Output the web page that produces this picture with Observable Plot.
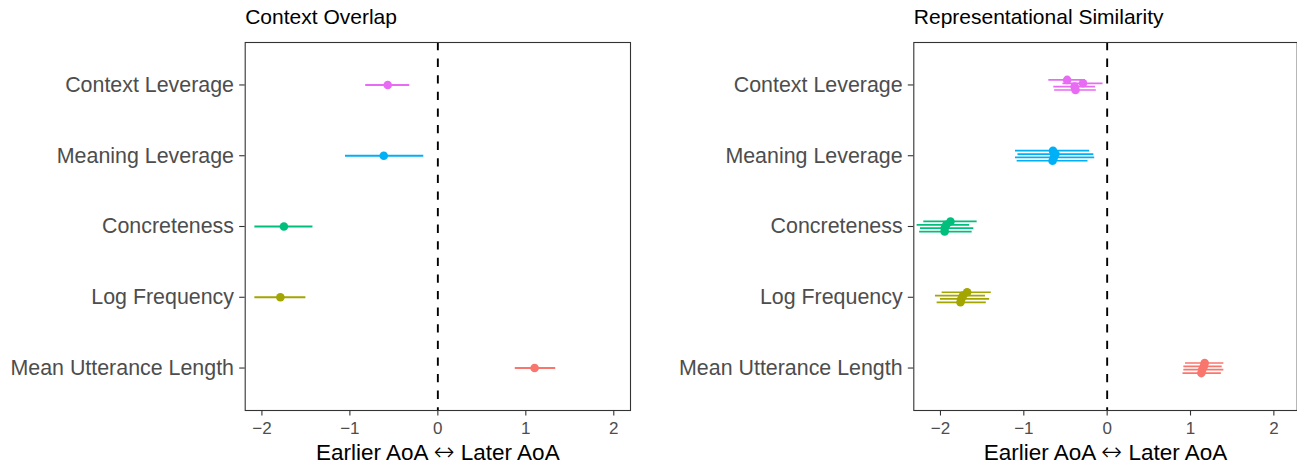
<!DOCTYPE html>
<html>
<head>
<meta charset="utf-8">
<script src="https://cdn.jsdelivr.net/npm/d3@7"></script>
<script src="https://cdn.jsdelivr.net/npm/@observablehq/plot@0.6"></script>
<style>
  html, body { margin: 0; padding: 0; background: white; }
  #chart { position: relative; width: 1297px; height: 465px; overflow: hidden; background: white; }
  #chart > svg { position: absolute; top: 0; }
</style>
</head>
<body>
<div id="chart"></div>
<script>
// ---- data ----
const categories = ["Context Leverage", "Meaning Leverage", "Concreteness", "Log Frequency", "Mean Utterance Length"];
const colors = ["#E76BF3", "#00B0F6", "#00BF7D", "#A3A500", "#F8766D"];
const panelTitles = ["Context Overlap", "Representational Similarity"];
const axisTitleLeft = "Earlier AoA";
const axisTitleArrow = "\u2194";
const axisTitleRight = "Later AoA";
const axisTitle = axisTitleLeft + " " + axisTitleArrow + " " + axisTitleRight;
const xTicks = [-2, -1, 0, 1, 2];

// Context Overlap: one estimate per predictor
const overlapEst = [-0.57, -0.615, -1.75, -1.79, 1.10];
const overlapLo  = [-0.82, -1.05, -2.08, -2.08, 0.88];
const overlapHi  = [-0.32, -0.16, -1.42, -1.50, 1.34];

// Representational Similarity: four models per predictor (top to bottom)
const simEst = [
  [-0.48, -0.29, -0.39, -0.38],
  [-0.65, -0.62, -0.64, -0.655],
  [-1.88, -1.93, -1.95, -1.95],
  [-1.68, -1.73, -1.75, -1.76],
  [1.17, 1.16, 1.14, 1.13]
];
const simLo = [
  [-0.70, -0.53, -0.64, -0.63],
  [-1.10, -1.07, -1.10, -1.08],
  [-2.20, -2.28, -2.24, -2.25],
  [-1.98, -2.06, -2.00, -2.04],
  [0.94, 0.92, 0.92, 0.91]
];
const simHi = [
  [-0.26, -0.05, -0.14, -0.13],
  [-0.21, -0.16, -0.15, -0.23],
  [-1.56, -1.65, -1.60, -1.62],
  [-1.39, -1.46, -1.41, -1.45],
  [1.40, 1.38, 1.40, 1.37]
];

// ---- build tables ----
const dodge = 0.0475;
const overlapRows = categories.map((cat, i) => ({cat, y: i + 1, est: overlapEst[i], lo: overlapLo[i], hi: overlapHi[i]}));
const simRows = categories.flatMap((cat, i) => simEst[i].map((est, j) => ({
  cat, y: i + 1 + (j - (simEst[i].length - 1) / 2) * dodge, est, lo: simLo[i][j], hi: simHi[i][j]
})));
const yTicks = categories.map((_, i) => i + 1);
const fmt = d => d < 0 ? "\u2212" + Math.abs(d) : String(d);
const font = "'Liberation Sans', Arial, Helvetica, sans-serif";

function panel({width, marginLeft, marginRight, domain, title, rows, lineWidth}) {
  const svg = Plot.plot({
    width, height: 465,
    marginTop: 42, marginBottom: 55, marginLeft, marginRight,
    x: {domain, axis: null},
    y: {domain: [0.4, 5.6], reverse: true, axis: null},
    color: {domain: categories, range: colors},
    style: {fontFamily: font, background: "white", overflow: "visible"},
    marks: [
      Plot.ruleX([0], {stroke: "black", strokeWidth: 1.9, strokeDasharray: "8.3,8.3"}),
      Plot.ruleY(rows, {y: "y", x1: "lo", x2: "hi", stroke: "cat", strokeWidth: lineWidth}),
      Plot.dot(rows, {y: "y", x: "est", fill: "cat", r: 4.3}),
      Plot.frame({stroke: "#333333", strokeWidth: 1.1}),
      Plot.axisY(yTicks, {tickSize: 5.5, tickFormat: () => "", color: "#333333", strokeWidth: 1.1, label: null}),
      Plot.axisY(yTicks, {tickSize: 0, tickPadding: 11.2, tickFormat: i => categories[i - 1], fontSize: 21.4, color: "#4D4D4D", label: null}),
      Plot.axisX(xTicks, {tickSize: 5.5, tickFormat: () => "", color: "#333333", strokeWidth: 1.1, label: null}),
      Plot.axisX(xTicks, {tickSize: 0, tickPadding: 11.7, tickFormat: fmt, fontSize: 17, color: "#4D4D4D", label: null}),
      Plot.text([axisTitle], {frameAnchor: "bottom", lineAnchor: "middle", dy: 42.5, fontSize: 22.5, fill: "black"}),
      Plot.text([title], {frameAnchor: "top-left", textAnchor: "start", lineAnchor: "middle", dy: -25, fontSize: 21, fill: "black"})
    ]
  });
  // give the arrow its own glyph size, like the reference's symbol-font arrow
  d3.select(svg).selectAll("text").filter(function() { return this.textContent === axisTitle; }).each(function() {
    const t = d3.select(this);
    t.text(null);
    t.append("tspan").text(axisTitleLeft + " ");
    t.append("tspan").attr("font-family", "'DejaVu Sans', sans-serif").attr("font-size", 25).attr("font-weight", 300).text(axisTitleArrow);
    t.append("tspan").text(" " + axisTitleRight);
  });
  return svg;
}

const left = panel({width: 640, marginLeft: 244.7, marginRight: 10, domain: [-2.19, 2.19], title: panelTitles[0], rows: overlapRows, lineWidth: 1.9});
const right = panel({width: 657, marginLeft: 273.3, marginRight: 0.3, domain: [-2.32, 2.28], title: panelTitles[1], rows: simRows, lineWidth: 1.7});
left.style.left = "0px";
right.style.left = "640px";
const chart = document.getElementById("chart");
chart.appendChild(left);
chart.appendChild(right);
</script>
</body>
</html>
